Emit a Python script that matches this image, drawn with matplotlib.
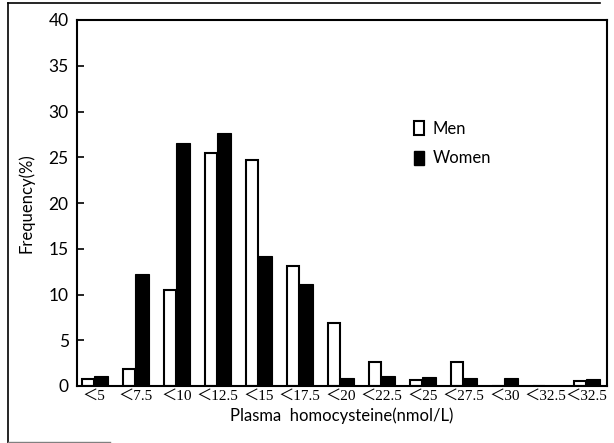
import numpy as np
import matplotlib
matplotlib.use("Agg")
import matplotlib.pyplot as plt
from matplotlib.lines import Line2D
from matplotlib.patches import Patch

plt.rcParams['font.family'] = ['Lato', 'DejaVu Sans']

cats = ['＜5', '＜7.5', '＜10', '＜12.5', '＜15', '＜17.5', '＜20',
        '＜22.5', '＜25', '＜27.5', '＜30', '＜32.5', '＜32.5']
men = [0.8, 1.9, 10.5, 25.5, 24.7, 13.1, 6.9, 2.6, 0.7, 2.6, 0.0, 0.0, 0.6]
women = [1.1, 12.2, 26.6, 27.7, 14.2, 11.1, 0.9, 1.1, 1.0, 0.9, 0.9, 0.0, 0.8]

fig = plt.figure(figsize=(6.14, 4.43), dpi=100)
ax = fig.add_axes([77/614, 57/443, 530/614, 366/443])

x = np.arange(len(cats))
ax.bar(x, men, width=-0.3, align='edge', color='white', edgecolor='black', linewidth=1.5, label='Men')
ax.bar(x, women, width=0.34, align='edge', color='black', edgecolor='black', linewidth=0.8, label='Women')

ax.set_xlim(-0.42, 12.5)
ax.set_ylim(0, 40)
ax.set_yticks(range(0, 41, 5))
ax.set_xticks(x)
ax.set_xticklabels(cats, family=['Liberation Serif', 'Noto Sans CJK SC'], fontsize=11)
ax.tick_params(axis='y', direction='in', length=5, width=1.2, labelsize=12.5, pad=6)
ax.tick_params(axis='x', length=0, pad=3)
for s in ax.spines.values():
    s.set_linewidth(1.5)

ax.set_xlabel('Plasma  homocysteine(nmol/L)', fontsize=12, labelpad=3)
ax.set_ylabel('Frequency(%)', fontsize=12, labelpad=10)

handles = [Patch(facecolor='white', edgecolor='black', linewidth=1.5),
           Patch(facecolor='black', edgecolor='black')]
ax.legend(handles, ['Men', 'Women'], loc='upper left', bbox_to_anchor=(0.608, 0.765),
          frameon=False, fontsize=12, handlelength=0.6, handleheight=0.9,
          handletextpad=0.5, labelspacing=0.8)

# scanned page frame
fig.add_artist(Line2D([8/614, 8/614], [0.0, 1 - 3/443], color='black', lw=1.2))
fig.add_artist(Line2D([8/614, 600/614], [1 - 3/443, 1 - 3/443], color='black', lw=1.2))
fig.add_artist(Line2D([8/614, 110/614], [1.5/443, 1.5/443], color='gray', lw=1))

fig.savefig('out.png', dpi=100)
